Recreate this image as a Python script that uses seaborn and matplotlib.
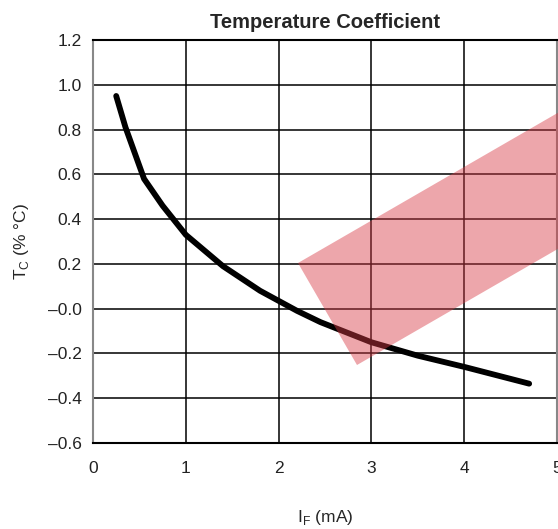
import matplotlib
matplotlib.use('Agg')
import matplotlib.pyplot as plt
import seaborn as sns
import pandas as pd
from matplotlib.patches import Polygon

# forward current (mA) vs temperature coefficient (%/°C)
current_ma = [0.25, 0.35, 0.55, 0.75, 1.0, 1.4, 1.8, 2.2, 2.45, 3.0, 3.5, 4.0, 4.7]
temp_coef = [0.95, 0.81, 0.58, 0.46, 0.33, 0.19, 0.08, -0.01, -0.06, -0.15, -0.21, -0.26, -0.335]

x_ticks = [0, 1, 2, 3, 4, 5]
y_ticks = [-0.6, -0.4, -0.2, 0.0, 0.2, 0.4, 0.6, 0.8, 1.0, 1.2]
y_tick_labels = ['\u20130.6', '\u20130.4', '\u20130.2', '\u20130.0', '0.2', '0.4', '0.6', '0.8', '1.0', '1.2']

df = pd.DataFrame({'IF': current_ma, 'TC': temp_coef})

sns.set_style('white')
plt.rcParams['font.family'] = ['Liberation Sans', 'DejaVu Sans']

fig = plt.figure(figsize=(5.58, 5.29), dpi=100)
ax = fig.add_axes([93 / 558, 86 / 529, 464 / 558, 403 / 529])

sns.lineplot(data=df, x='IF', y='TC', ax=ax, color='black', linewidth=4.2,
             solid_capstyle='round', zorder=4)

ax.set_xlim(0, 5)
ax.set_ylim(-0.6, 1.2)
ax.set_xticks(x_ticks)
ax.set_yticks(y_ticks)
ax.set_yticklabels(y_tick_labels)
ax.tick_params(axis='both', length=0, labelsize=12.5, colors='#222222')
ax.tick_params(axis='x', pad=13)
ax.tick_params(axis='y', pad=8)
ax.grid(True, color='black', linewidth=1.1)
for s in ax.spines.values():
    s.set_color('#888888')
    s.set_linewidth(1.5)
ax.spines['bottom'].set_color('black')
ax.spines['top'].set_color('black')

ax.set_title('Temperature Coefficient', fontsize=14.5, fontweight='bold', pad=9)
ax.set_xlabel('I$_\\mathregular{F}$ (mA)', fontsize=12.5, labelpad=23)
ax.set_ylabel('T$_\\mathregular{C}$ (% \u00b0C)', fontsize=12.5, labelpad=12)

# watermark stamp (figure pixel coords)
W, H = 558.0, 529.0
stamp = [(298, 263), (357, 365), (620, 213), (561, 111)]
fig.patches.append(Polygon([(x / W, 1 - y / H) for x, y in stamp], closed=True,
                           transform=fig.transFigure, facecolor='#d83a45',
                           alpha=0.45, edgecolor='none', zorder=3))

fig.savefig('out.png', dpi=100)
